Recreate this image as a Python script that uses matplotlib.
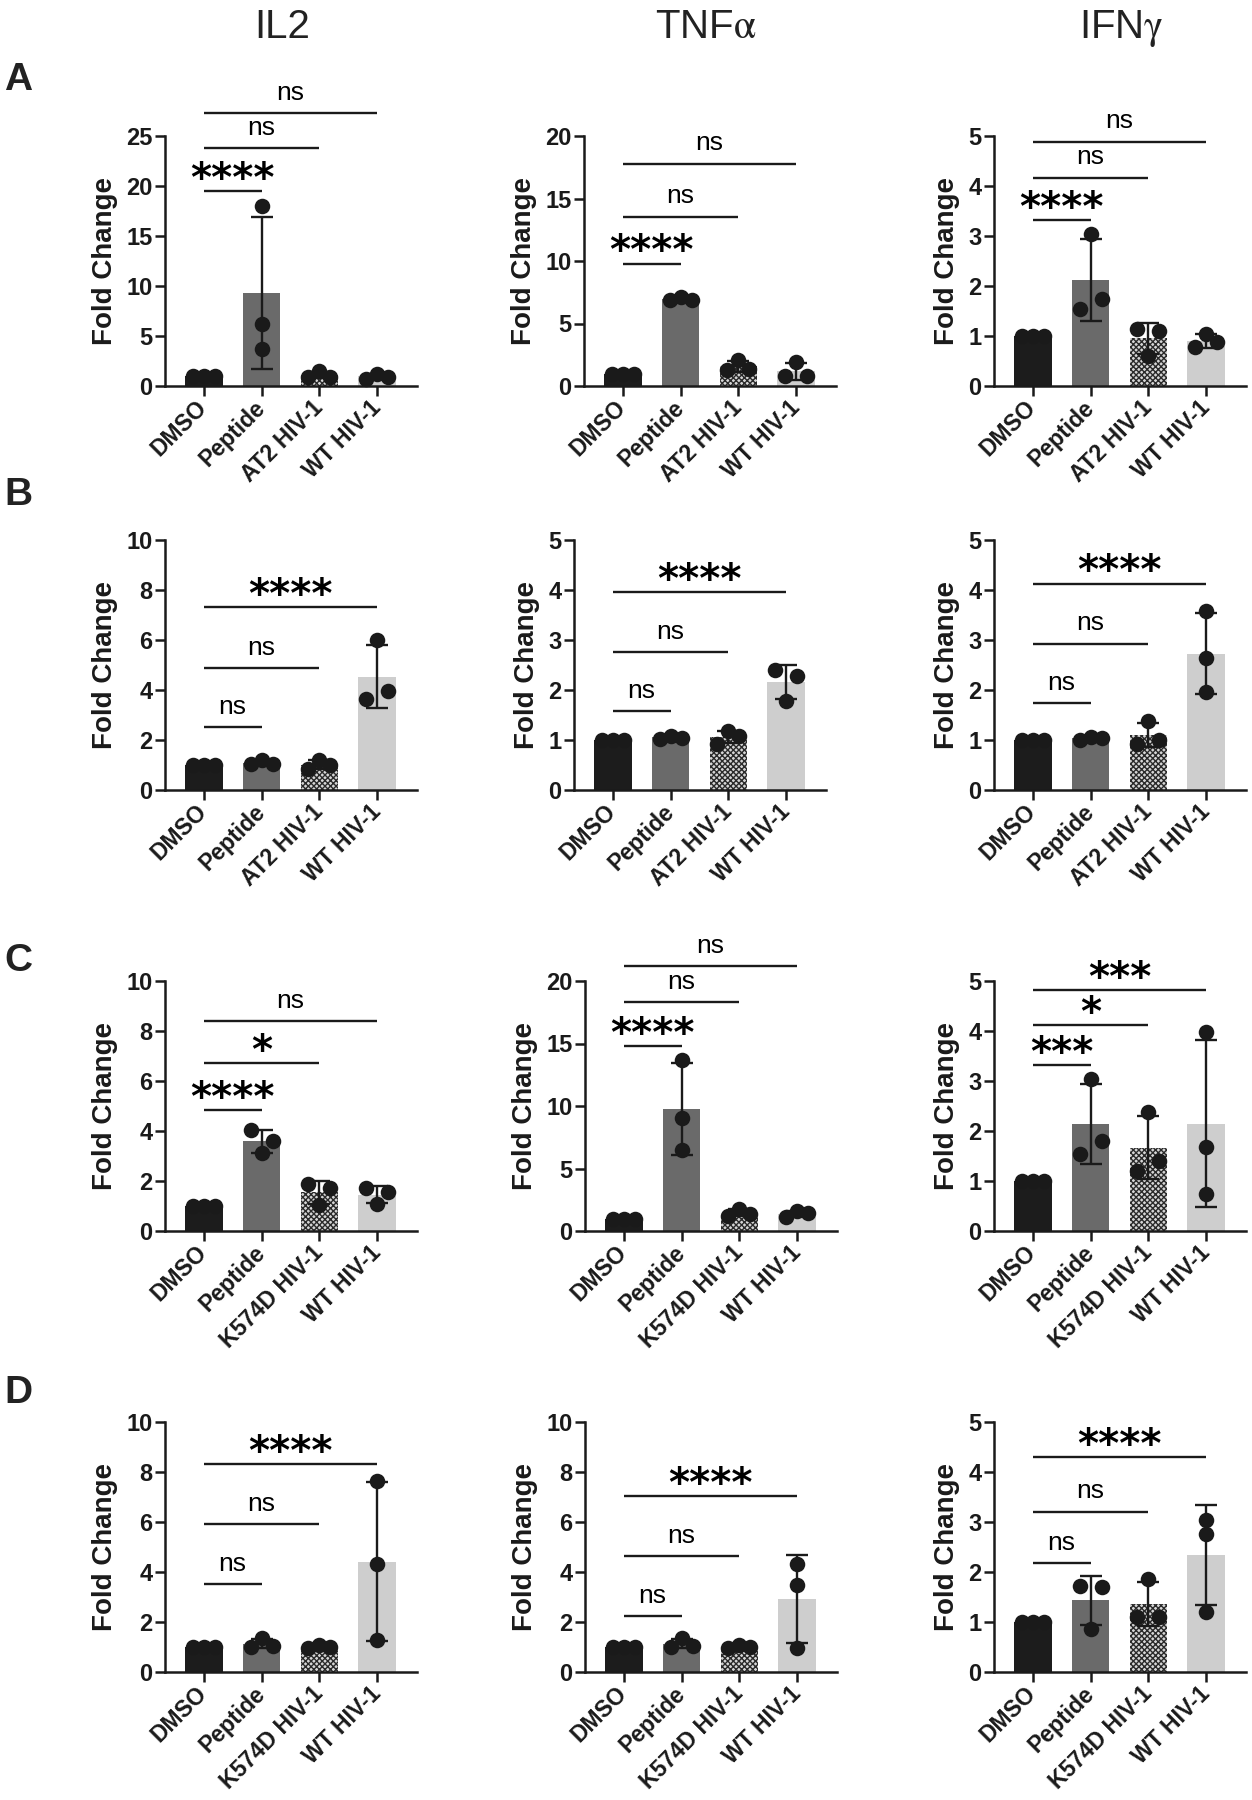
import matplotlib
matplotlib.use("Agg")
import matplotlib.pyplot as plt
import numpy as np

plt.rcParams['font.family'] = ['Liberation Sans', 'DejaVu Sans']
plt.rcParams['mathtext.fontset'] = 'stix'
plt.rcParams['hatch.linewidth'] = 1.0

# ---- data ----
groups_ab = ["DMSO", "Peptide", "AT2 HIV-1", "WT HIV-1"]
groups_cd = ["DMSO", "Peptide", "K574D HIV-1", "WT HIV-1"]
cytokines = ["IL2", r"TNF$\mathrm{\alpha}$", r"IFN$\mathrm{\gamma}$"]
row_letters = ["A", "B", "C", "D"]

# fold change, three replicates per group (DMSO, Peptide, mutant, WT)
a_il2 = [[1, 1, 1], [18.0, 6.2, 3.75], [0.9, 1.5, 0.95], [0.75, 1.25, 0.95]]
a_tnf = [[1, 1, 1], [6.85, 7.1, 6.9], [1.25, 2.1, 1.35], [0.8, 1.95, 0.8]]
a_ifn = [[1, 1, 1], [1.55, 3.05, 1.75], [1.15, 0.6, 1.11], [0.78, 1.05, 0.88]]

b_il2 = [[1, 1, 1], [1.05, 1.2, 1.05], [0.85, 1.2, 1.0], [3.65, 5.99, 3.96]]
b_tnf = [[1, 1, 1], [1.02, 1.09, 1.05], [0.93, 1.18, 1.08], [2.41, 1.78, 2.29]]
b_ifn = [[1, 1, 1], [1.0, 1.06, 1.04], [0.92, 1.38, 1.0], [3.58, 2.65, 1.96]]

c_il2 = [[1, 1, 1], [4.04, 3.13, 3.61], [1.88, 1.04, 1.71], [1.71, 1.08, 1.57]]
c_tnf = [[1, 1, 1], [13.7, 9.05, 6.45], [1.2, 1.75, 1.4], [1.15, 1.6, 1.45]]
c_ifn = [[1, 1, 1], [1.55, 3.05, 1.81], [1.21, 2.39, 1.41], [3.99, 1.69, 0.75]]

d_il2 = [[1, 1, 1], [1.0, 1.35, 1.05], [0.95, 1.1, 1.0], [7.64, 4.31, 1.27]]
d_tnf = [[1, 1, 1], [1.0, 1.35, 1.05], [0.95, 1.1, 1.0], [4.33, 3.47, 0.97]]
d_ifn = [[1, 1, 1], [1.73, 0.87, 1.71], [1.1, 1.87, 1.1], [3.05, 2.76, 1.2]]

y_max = [[25, 20, 5], [10, 5, 5], [10, 20, 5], [10, 10, 5]]
y_step = [[5, 5, 1], [2, 1, 1], [2, 5, 1], [2, 2, 1]]

# comparison bars vs DMSO (Peptide, mutant, WT): height and label
sig_heights = [[[19.5, 23.8, 27.3], [9.8, 13.55, 17.8], [3.32, 4.17, 4.89]],
               [[2.51, 4.89, 7.33], [1.58, 2.76, 3.96], [1.74, 2.93, 4.13]],
               [[4.84, 6.73, 8.41], [14.8, 18.3, 21.2], [3.32, 4.12, 4.82]],
               [[3.53, 5.91, 8.31], [2.23, 4.64, 7.03], [2.18, 3.21, 4.31]]]
sig_labels = [[["****", "ns", "ns"], ["****", "ns", "ns"], ["****", "ns", "ns"]],
              [["ns", "ns", "****"], ["ns", "ns", "****"], ["ns", "ns", "****"]],
              [["****", "*", "ns"], ["****", "ns", "ns"], ["***", "*", "***"]],
              [["ns", "ns", "****"], ["ns", "ns", "****"], ["ns", "ns", "****"]]]

panels = [[a_il2, a_tnf, a_ifn], [b_il2, b_tnf, b_ifn],
          [c_il2, c_tnf, c_ifn], [d_il2, d_tnf, d_ifn]]
row_groups = [groups_ab, groups_ab, groups_cd, groups_cd]

bar_colors = ['#1c1c1c', '#6a6a6a', '#d6d6d6', '#cecece']
ink = '#1a1a1a'

# ---- layout (pixels) ----
W, H = 1252, 1800
ax_lefts = [[165, 584, 994], [165, 574, 994], [165, 585, 994], [165, 585, 994]]
ax_tops = [136, 540, 981, 1422]
ax_w, ax_h = 252, 250
title_x = [282, 706, 1121]
letter_base = [90, 505, 971, 1403]
XLIM = (-0.67, 3.69)

fig = plt.figure(figsize=(W / 100, H / 100), dpi=100)


def swarm_offsets(vals, ppu, dmin=14.0, spread=11.0):
    # prism-like spreading of points that sit at nearly the same height
    vals = np.asarray(vals, float)
    order = np.argsort(-vals, kind='stable')
    rows = []
    for i in order:
        if rows and (vals[rows[-1][0]] - vals[i]) * ppu < dmin:
            rows[-1].append(i)
        else:
            rows.append([i])
    offs = np.zeros(len(vals))
    for r in rows:
        r = sorted(r)
        if len(r) > 1:
            offs[r] = np.linspace(-spread, spread, len(r))
    return offs


def draw_panel(ax, values, groups, ytop, ystep, heights, labels):
    x = np.arange(len(groups))
    means = [np.mean(v) for v in values]
    sds = [np.std(v, ddof=1) for v in values]
    ax.set_xlim(*XLIM)
    ax.set_ylim(0, ytop)

    for i in x:
        if i == 2:
            ax.bar(i, means[i], width=0.65, color=bar_colors[i], edgecolor='#2a2a2a',
                   hatch='xxxxxx', linewidth=0, zorder=2)
        else:
            ax.bar(i, means[i], width=0.65, color=bar_colors[i], linewidth=0, zorder=2)
    ax.errorbar(x, means, yerr=sds, fmt='none', ecolor=ink, elinewidth=1.7,
                capsize=8, capthick=1.7, zorder=3, clip_on=False)

    bb = ax.get_window_extent()
    ppu_y = bb.height / ytop
    ppu_x = bb.width / (XLIM[1] - XLIM[0])
    for i, vals in enumerate(values):
        offs = swarm_offsets(vals, ppu_y) / ppu_x
        ax.scatter(i + offs, vals, s=125, color=ink, linewidths=0, zorder=4, clip_on=False)

    for j, (h, lab) in enumerate(zip(heights, labels), start=1):
        ax.plot([0, j], [h, h], color=ink, lw=1.7, clip_on=False, solid_capstyle='butt')
        if lab == 'ns':
            ax.annotate(lab, xy=(j / 2, h), xytext=(0, 9.5), textcoords='offset points',
                        ha='center', va='baseline', fontsize=19, annotation_clip=False)
        else:
            ax.annotate(lab, xy=(j / 2, h), xytext=(0, 0), textcoords='offset points',
                        ha='center', va='baseline', fontsize=29, fontweight='bold',
                        family=['DejaVu Sans'], annotation_clip=False)

    yt = np.arange(0, ytop + 0.001, ystep)
    ax.set_yticks(yt, [f"{t:g}" for t in yt], fontsize=17, fontweight='bold')
    ax.set_xticks(x, groups, rotation=45, ha='right', va='center',
                  rotation_mode='anchor', fontsize=16.5, fontweight='bold')
    ax.tick_params(axis='both', width=1.8, length=7, color=ink, labelcolor=ink)
    ax.tick_params(axis='x', pad=6)
    ax.tick_params(axis='y', pad=2)
    for s in ['top', 'right']:
        ax.spines[s].set_visible(False)
    for s in ['left', 'bottom']:
        ax.spines[s].set_linewidth(1.8)
        ax.spines[s].set_color(ink)
    ax.set_ylabel("Fold Change", fontsize=20, fontweight='bold', labelpad=6, color=ink)


for r in range(4):
    for c in range(3):
        left = ax_lefts[r][c]
        top = ax_tops[r]
        ax = fig.add_axes([left / W, 1 - (top + ax_h) / H, ax_w / W, ax_h / H])
        draw_panel(ax, panels[r][c], row_groups[r], y_max[r][c], y_step[r][c],
                   sig_heights[r][c], sig_labels[r][c])
    fig.text(4 / W, 1 - letter_base[r] / H, row_letters[r], ha='left', va='baseline',
             fontsize=28, fontweight='bold', color='#222222')

for c in range(3):
    fig.text(title_x[c] / W, 1 - 38 / H, cytokines[c], ha='center', va='baseline',
             fontsize=29, color='#222222')

fig.savefig("out.png", dpi=100, facecolor='white')
